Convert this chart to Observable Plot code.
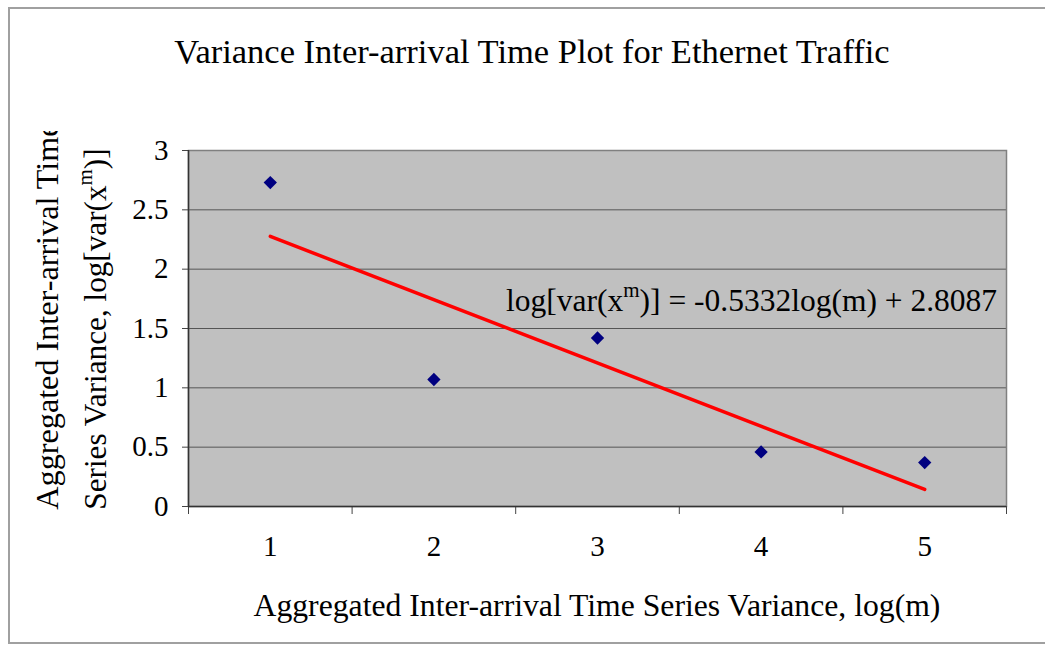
<!DOCTYPE html>
<html>
<head>
<meta charset="utf-8">
<script src="https://cdn.jsdelivr.net/npm/d3@7"></script>
<script src="https://cdn.jsdelivr.net/npm/@observablehq/plot@0.6"></script>
<style>
  html, body { margin: 0; padding: 0; background: #fff; }
  #wrap { position: relative; width: 1045px; height: 648px; overflow: hidden; }
  #border { position: absolute; left: 8px; top: 7px; width: 1045px; height: 637px; border: 2px solid #a0a0a0; box-sizing: border-box; pointer-events: none; }
</style>
</head>
<body>
<div id="wrap"><div id="border"></div></div>
<script>
// ---- data ----
const logM = [1, 2, 3, 4, 5];
const logVar = [2.73, 1.07, 1.42, 0.46, 0.37];
const yTicks = [0, 0.5, 1, 1.5, 2, 2.5, 3];
const xTickLabels = [1, 2, 3, 4, 5];
const xTickMarks = [0.5, 1.5, 2.5, 3.5, 4.5, 5.5];
const titleText = "Variance Inter-arrival Time Plot for Ethernet Traffic";
const xTitle = "Aggregated Inter-arrival Time Series Variance, log(m)";
const yTitleLine1 = "Aggregated Inter-arrival Time";
const yTitleLine2 = ["Series Variance, log[var(x", "m", ")]"];
const eqParts = ["log[var(x", "m", ")] = -0.5332log(m) + 2.8087"];

const data = logM.map((x, i) => ({x, y: logVar[i]}));
const FONT = "Liberation Serif, Times New Roman, serif";

const plot = Plot.plot({
  width: 1045,
  height: 648,
  marginLeft: 188,
  marginRight: 39,
  marginTop: 150,
  marginBottom: 142,
  style: {fontFamily: FONT, fontSize: "28px", background: "transparent", color: "#000"},
  x: {domain: [0.5, 5.5]},
  y: {domain: [0, 3]},
  marks: [
    Plot.frame({fill: "#c0c0c0"}),
    Plot.gridY(yTicks, {stroke: "#555", strokeOpacity: 1, strokeWidth: 1}),
    Plot.frame({stroke: "#808080", strokeWidth: 1.5}),
    Plot.axisY(yTicks, {tickSize: 6, tickPadding: 14, tickFormat: d => String(d), stroke: "#444", label: null, fontSize: 29}),
    Plot.axisX(xTickMarks, {tickSize: 8, tickFormat: () => "", stroke: "#444", label: null}),
    Plot.axisX(xTickLabels, {tickSize: 0, tickPadding: 29, tickFormat: d => String(d), label: null, fontSize: 29}),
    Plot.ruleX([0.5], {stroke: "#333", strokeWidth: 1.5}),
    Plot.ruleY([0], {stroke: "#333", strokeWidth: 1.5}),
    Plot.linearRegressionY(data, {x: "x", y: "y", stroke: "#ff0000", strokeWidth: 3.5, ci: 0}),
    Plot.dot(data, {x: "x", y: "y", symbol: "diamond2", r: 6, fill: "#000080", stroke: "none"})
  ]
});
document.getElementById("wrap").appendChild(plot);
plot.style.position = "absolute";
plot.style.left = "0px";
plot.style.top = "0px";

const svg = d3.select(plot);
const g = svg.append("g").attr("font-family", FONT).attr("fill", "#000");

// title
g.append("text").attr("x", 532).attr("y", 63).attr("text-anchor", "middle")
  .attr("font-size", 34.5).text(titleText);

// x title
g.append("text").attr("x", 597).attr("y", 616).attr("text-anchor", "middle")
  .attr("font-size", 31.7).text(xTitle);

// y title (clipped at top like the original)
svg.append("defs").append("clipPath").attr("id", "ytclip")
  .append("rect").attr("x", 0).attr("y", 131).attr("width", 180).attr("height", 500);
const yt = g.append("g").attr("clip-path", "url(#ytclip)");
yt.append("text").attr("transform", "translate(58,316) rotate(-90)")
  .attr("text-anchor", "middle").attr("font-size", 32.2).text(yTitleLine1);
const t2 = yt.append("text").attr("transform", "translate(106,329) rotate(-90)")
  .attr("text-anchor", "middle").attr("font-size", 31.2);
t2.append("tspan").text(yTitleLine2[0]);
t2.append("tspan").attr("font-size", 21).attr("dy", -14).text(yTitleLine2[1]);
t2.append("tspan").attr("dy", 14).text(yTitleLine2[2]);

// regression equation label
const eq = g.append("text").attr("x", 506).attr("y", 311).attr("font-size", 31.5)
  .attr("text-anchor", "start");
eq.append("tspan").text(eqParts[0]);
eq.append("tspan").attr("font-size", 21).attr("dy", -14).text(eqParts[1]);
eq.append("tspan").attr("dy", 14).text(eqParts[2]);
</script>
</body>
</html>
